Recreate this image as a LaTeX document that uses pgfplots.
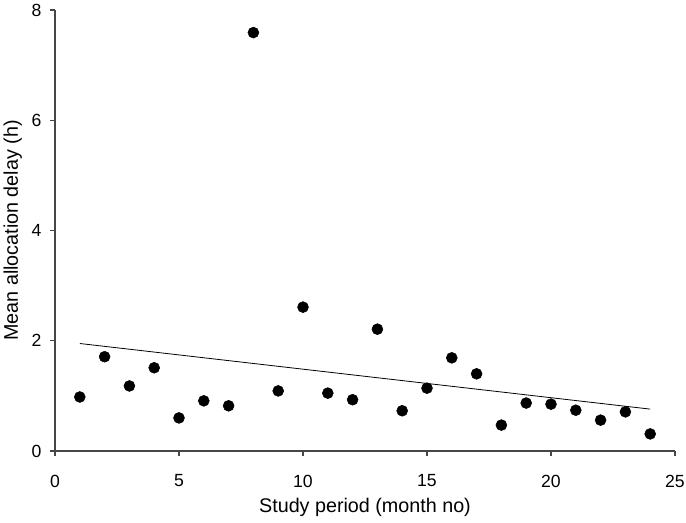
\documentclass[border=0pt]{standalone}
\usepackage{pgfplots}
\pgfplotsset{compat=1.18}
\usepackage{fontspec}
\setmainfont{Liberation Sans}
\definecolor{axgray}{RGB}{70,70,70}
\begin{document}
\begin{tikzpicture}
\begin{axis}[
  name=ax, at={(0,0)}, anchor=south west,
  scale only axis, width=465pt, height=330.75pt,
  xmin=0, xmax=25, ymin=0, ymax=8,
  axis x line*=bottom, axis y line*=left,
  axis line style={axgray, line width=1.2pt},
  xtick={0,5,10,15,20,25}, ytick={0,2,4,6,8},
  tick align=outside, major tick length=4pt,
  tick style={axgray, line width=1.1pt},
  /pgf/number format/assume math mode=true,
  xticklabel style={font=\fontsize{13.2}{14}\selectfont, anchor=center, inner sep=0pt, yshift=-18.5pt},
  yticklabel style={font=\fontsize{13.2}{14}\selectfont, anchor=east, inner sep=0pt, xshift=-6pt},
  xlabel={Study period (month no)},
  ylabel={Mean allocation delay (h)},
  label style={font=\fontsize{14.8}{16}\selectfont},
  xlabel style={at={(axis description cs:0.5,-0.127)}, anchor=center, inner sep=0pt},
  ylabel style={at={(axis description cs:-0.068,0.5)}, anchor=center, inner sep=0pt},
  clip=false,
]
\addplot[only marks, mark=*, mark size=4.1pt, black] coordinates {
(1,0.98) (2,1.71) (3,1.18) (4,1.51) (5,0.60) (6,0.91) (7,0.82) (8,7.59)
(9,1.09) (10,2.61) (11,1.05) (12,0.93) (13,2.21) (14,0.73) (15,1.14) (16,1.69)
(17,1.40) (18,0.47) (19,0.87) (20,0.85) (21,0.74) (22,0.56) (23,0.71) (24,0.31)
};
\addplot[black, line width=0.6pt] coordinates {(1,1.95) (24,0.76)};
\end{axis}
\pgfresetboundingbox
\path[use as bounding box] (-41.25pt,-53.25pt) rectangle (473.25pt,338.25pt);
\end{tikzpicture}
\end{document}
